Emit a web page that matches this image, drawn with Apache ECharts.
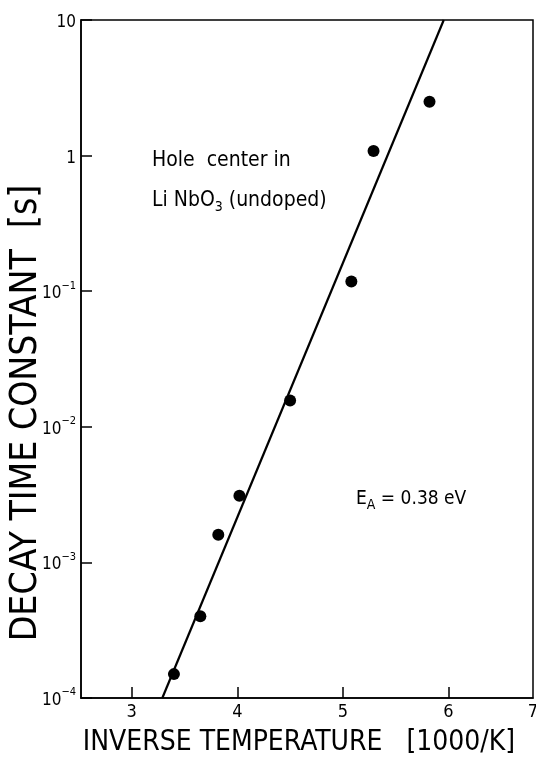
<!DOCTYPE html>
<html><head><meta charset="utf-8">
<script src="https://cdn.jsdelivr.net/npm/echarts@6/dist/echarts.min.js"></script>
<style>html,body{margin:0;padding:0;background:#fff}#c{width:536px;height:763px}</style>
</head><body><div id="c"></div>
<script>
// Data
const invT = [3.40, 3.65, 3.82, 4.02, 4.50, 5.08, 5.29, 5.82];
const tau  = [1.5e-4, 4.0e-4, 1.6e-3, 3.1e-3, 0.0156, 0.118, 1.08, 2.5];
const fitX = [3.29, 5.955];
const fitY = [1e-4, 10];
// x axis as drawn in the scanned figure (frame edges), ticks 3..6, edge labelled "7"
const xRange = [2.52, 6.8];
const xTicks = [3, 4, 5, 6];
const xTickLabels = ['3', '4', '5', '6'];
const xEdgeLabel = '7';
const yTicks = [1e-4, 1e-3, 1e-2, 1e-1, 1, 10];
const yTickLabels = ['10^−4', '10^−3', '10^−2', '10^−1', '1', '10'];

const NARROW = "'Liberation Sans Narrow', 'DejaVu Sans Condensed', 'Liberation Sans', sans-serif";
const chart = echarts.init(document.getElementById('c'));

function yLab(v) {
  let idx = 0, best = Infinity;
  yTicks.forEach((t, i) => { const d = Math.abs(Math.log10(t) - Math.log10(v)); if (d < best) { best = d; idx = i; } });
  const parts = yTickLabels[idx].split('^');
  return parts.length > 1 ? '{b|' + parts[0] + '}{s|' + parts[1] + '}' : '{b|' + parts[0] + '}';
}
function xLab(v) {
  if (Math.abs(v - xRange[1]) < 1e-6) return xEdgeLabel;
  const i = xTicks.findIndex(t => Math.abs(t - v) < 1e-6);
  return i >= 0 ? xTickLabels[i] : '';
}

chart.setOption({
  animation: false,
  backgroundColor: '#fff',
  grid: { left: 81, right: 3, top: 20, bottom: 65, containLabel: false, outerBoundsMode: 'none',
          show: true, borderColor: '#000', borderWidth: 1.5, backgroundColor: 'transparent' },
  xAxis: {
    type: 'value', min: xRange[0], max: xRange[1],
    name: 'INVERSE TEMPERATURE   [1000/K]', nameLocation: 'middle', nameGap: 31, nameMoveOverlap: false,
    nameTextStyle: { fontFamily: NARROW, fontSize: 28, color: '#000', padding: [0, 16, 0, 0] },
    axisLine: { show: true, lineStyle: { color: '#000', width: 1.5 } },
    axisTick: { show: true, inside: true, length: 11, customValues: xTicks, lineStyle: { color: '#000', width: 1.5 } },
    axisLabel: { customValues: xTicks.concat([xRange[1]]), formatter: xLab, margin: 5, color: '#000', fontSize: 18,
                 fontFamily: NARROW, hideOverlap: false, showMaxLabel: true },
    splitLine: { show: false }
  },
  yAxis: {
    type: 'log', logBase: 10, min: 1e-4, max: 10,
    name: 'DECAY TIME CONSTANT  [s]', nameLocation: 'middle', nameGap: 36, nameMoveOverlap: false,
    nameTextStyle: { fontFamily: NARROW, fontSize: 37, color: '#000', padding: [0, 108, 0, 0] },
    axisLine: { show: true, lineStyle: { color: '#000', width: 1.5 } },
    axisTick: { show: true, inside: true, length: 11, customValues: yTicks, lineStyle: { color: '#000', width: 1.5 } },
    axisLabel: {
      customValues: yTicks, formatter: yLab, margin: 5, color: '#000', hideOverlap: false,
      rich: {
        b: { fontSize: 17, lineHeight: 22, fontFamily: NARROW, color: '#000', verticalAlign: 'bottom' },
        s: { fontSize: 11, lineHeight: 12, fontFamily: NARROW, color: '#000', verticalAlign: 'top' }
      }
    },
    splitLine: { show: false }
  },
  series: [
    {
      type: 'line', data: fitX.map((x, i) => [x, fitY[i]]), symbol: 'none',
      lineStyle: { color: '#000', width: 2.2, opacity: 1 }, clip: true, z: 2
    },
    {
      type: 'scatter', data: invT.map((x, i) => [x, tau[i]]), symbol: 'circle', symbolSize: 12,
      itemStyle: { color: '#000', opacity: 1 }, z: 3
    }
  ],
  graphic: [
    { type: 'text', left: 152, top: 150, style: { text: 'Hole  center in', fontSize: 21, fontFamily: NARROW, fill: '#000' } },
    { type: 'text', left: 152, top: 190, style: {
      text: '{t|Li NbO}{u|3}{t| (undoped)}',
      rich: {
        t: { fontSize: 21, lineHeight: 24, fontFamily: NARROW, fill: '#000', verticalAlign: 'top' },
        u: { fontSize: 14, lineHeight: 14, fontFamily: NARROW, fill: '#000', verticalAlign: 'bottom' }
      } } },
    { type: 'text', left: 356, top: 490, style: {
      text: '{t|E}{u|A}{t| = 0.38 eV}',
      rich: {
        t: { fontSize: 19, lineHeight: 22, fontFamily: NARROW, fill: '#000', verticalAlign: 'top' },
        u: { fontSize: 14, lineHeight: 14, fontFamily: NARROW, fill: '#000', verticalAlign: 'bottom' }
      } } }
  ]
});
</script>
</body></html>
